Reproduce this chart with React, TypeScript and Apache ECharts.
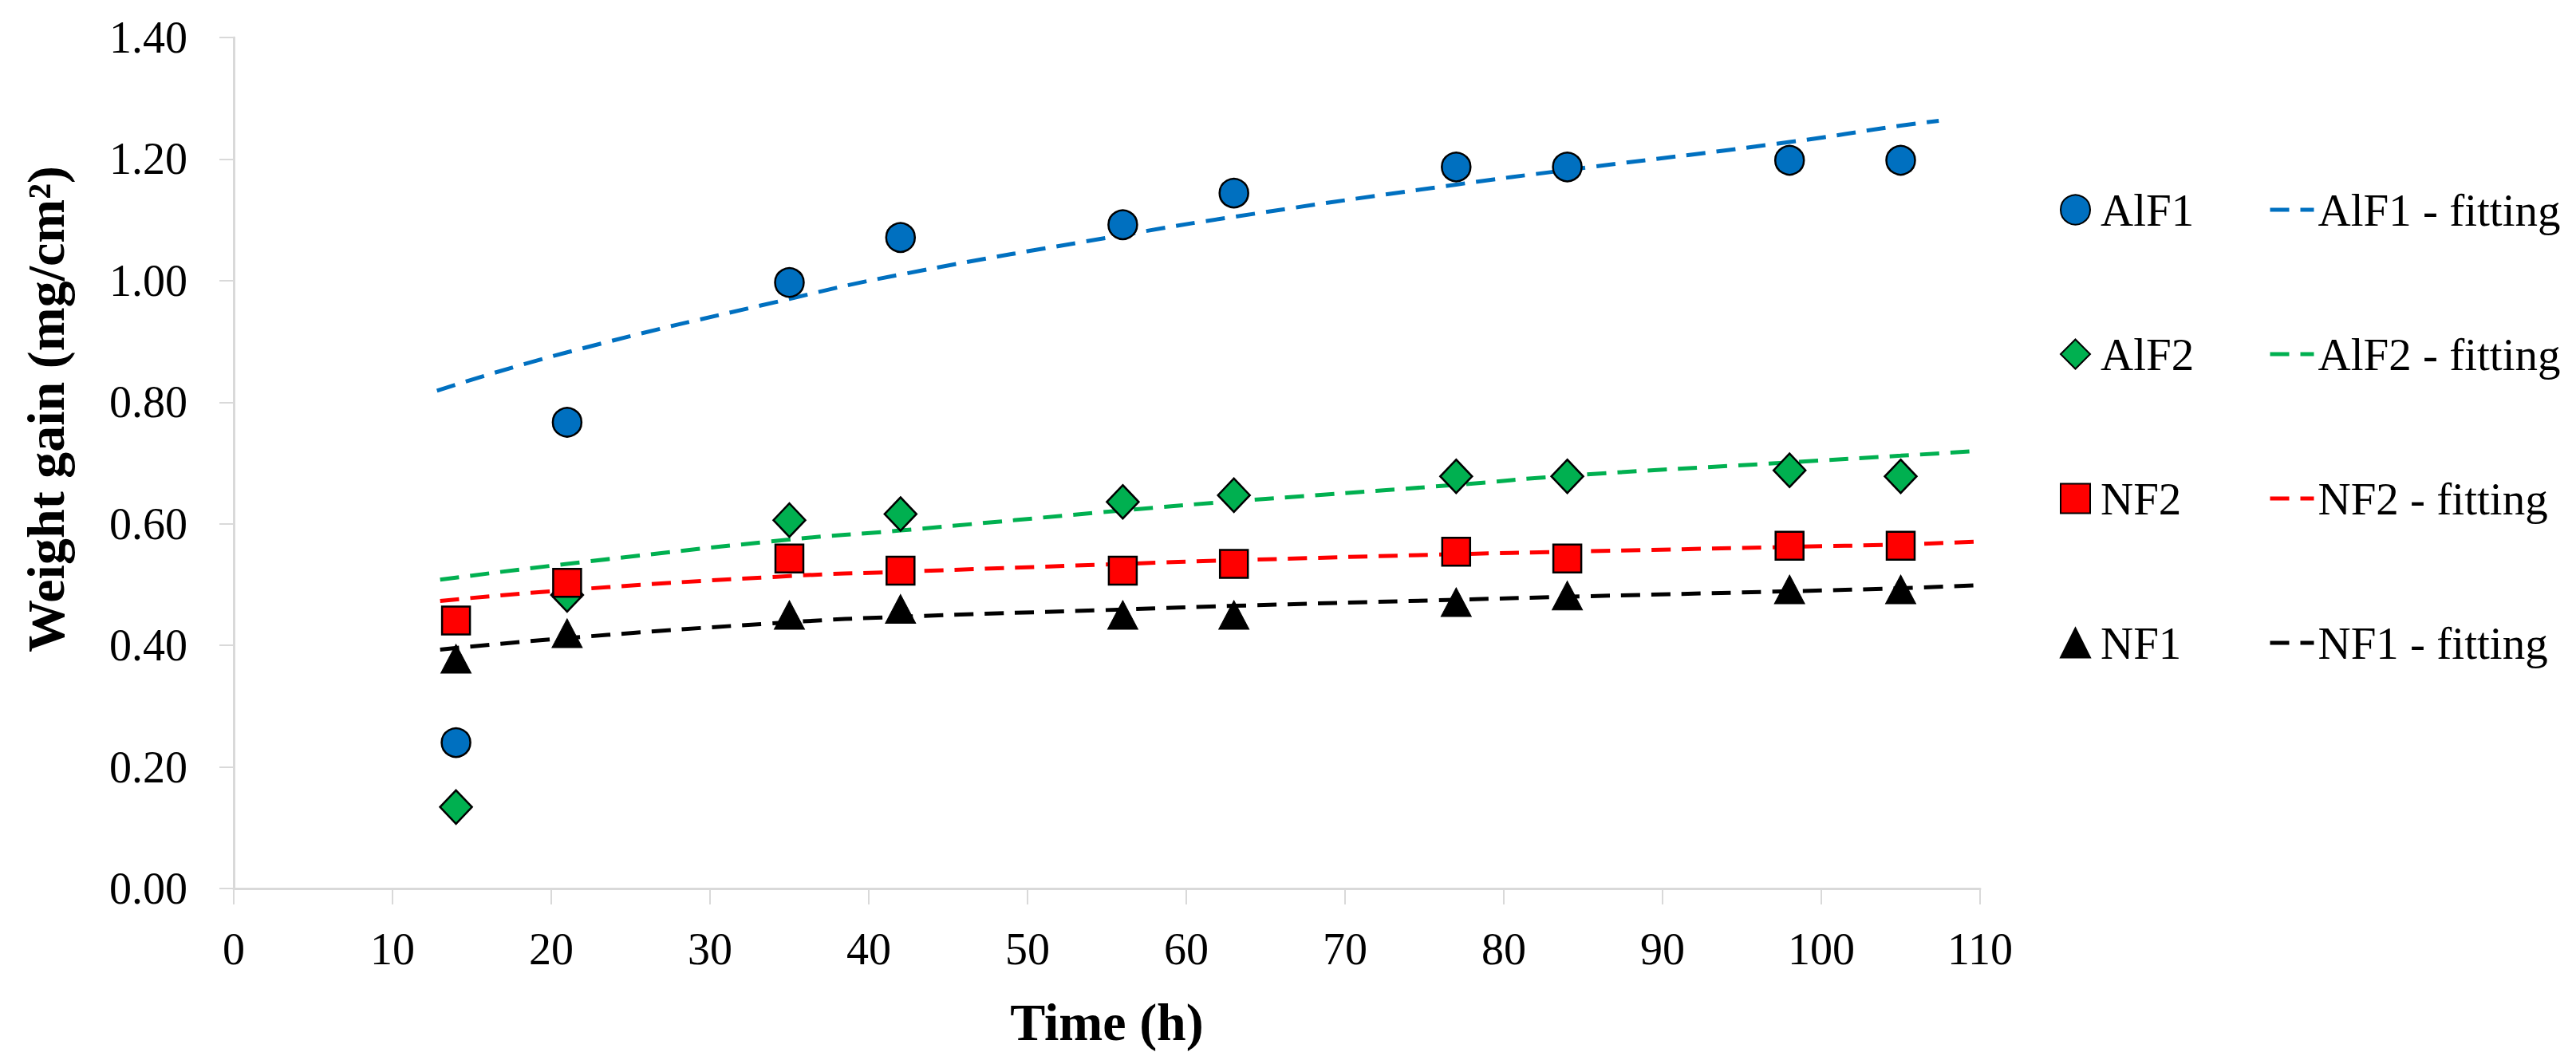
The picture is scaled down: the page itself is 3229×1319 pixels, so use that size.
import React, { useEffect, useRef } from "react";
import * as echarts from "echarts";

// Measured data (time in hours, weight gain in mg/cm²)
const times = [14, 21, 35, 42, 56, 63, 77, 84, 98, 105];
const alf1 = [0.24, 0.767, 0.997, 1.071, 1.092, 1.144, 1.187, 1.187, 1.198, 1.198];
const alf2 = [0.134, 0.483, 0.606, 0.616, 0.636, 0.647, 0.678, 0.678, 0.688, 0.678];
const nf2 = [0.441, 0.503, 0.543, 0.523, 0.523, 0.534, 0.554, 0.543, 0.564, 0.564];
const nf1 = [0.378, 0.42, 0.45, 0.46, 0.45, 0.45, 0.471, 0.482, 0.492, 0.492];

// Fitting curves
const fitTimesAlF1 = [12.8, 21, 35, 42, 56, 63, 77, 84, 98, 105, 107.4];
const fitAlF1 = [0.819, 0.882, 0.97, 1.01, 1.075, 1.105, 1.158, 1.182, 1.228, 1.255, 1.263];
const fitTimes = [13, 21, 35, 42, 56, 63, 77, 84, 98, 105, 110];
const fitAlF2 = [0.508, 0.534, 0.574, 0.589, 0.622, 0.637, 0.664, 0.679, 0.701, 0.712, 0.72];
const fitNF2 = [0.473, 0.491, 0.514, 0.521, 0.534, 0.54, 0.55, 0.554, 0.562, 0.566, 0.571];
const fitNF1 = [0.393, 0.412, 0.438, 0.447, 0.459, 0.465, 0.475, 0.48, 0.489, 0.494, 0.499];

const pointNames = ["AlF1", "AlF2", "NF2", "NF1"];
const fitNames = ["AlF1 - fitting", "AlF2 - fitting", "NF2 - fitting", "NF1 - fitting"];

const FONT = '"Liberation Serif", "Times New Roman", serif';

const zip = (xs: number[], ys: number[]) => xs.map((x, i) => [x, ys[i]]);

export default function App() {
  const ref = useRef<HTMLDivElement>(null);
  useEffect(() => {
    if (!ref.current) return;
    const chart = echarts.init(ref.current, undefined, { renderer: "svg" });
    const axisGray = "#d9d9d9";
    const border = { borderColor: "#000", borderWidth: 2.5, opacity: 1 };
    const fitLine = (name: string, xs: number[], ys: number[], color: string) => ({
      name,
      type: "line",
      data: zip(xs, ys),
      smooth: true,
      symbol: "none",
      z: 1,
      lineStyle: { color, width: 5, type: [24, 14] },
      itemStyle: { color },
    });
    chart.setOption({
      animation: false,
      backgroundColor: "#fff",
      grid: { left: 293, right: 747, top: 47, bottom: 205, containLabel: false },
      xAxis: {
        type: "value",
        min: 0,
        max: 110,
        interval: 10,
        name: "Time (h)",
        nameLocation: "middle",
        nameGap: 134,
        nameTextStyle: { fontFamily: FONT, fontWeight: "bold", fontSize: 66, color: "#000" },
        axisLine: { show: true, onZero: false, lineStyle: { color: axisGray, width: 3 } },
        axisTick: { show: true, inside: false, length: 20, lineStyle: { color: axisGray, width: 2 } },
        axisLabel: { margin: 48, fontFamily: FONT, fontSize: 56, color: "#000" },
        splitLine: { show: false },
      },
      yAxis: {
        type: "value",
        min: 0,
        max: 1.4,
        interval: 0.2,
        axisLine: { show: true, lineStyle: { color: axisGray, width: 3 } },
        axisTick: { show: true, inside: false, length: 18, lineStyle: { color: axisGray, width: 2 } },
        axisLabel: {
          margin: 58,
          fontFamily: FONT,
          fontSize: 56,
          color: "#000",
          formatter: (v: number) => v.toFixed(2),
        },
        splitLine: { show: false },
      },
      legend: [
        {
          data: pointNames,
          orient: "vertical",
          left: 2582,
          top: 233,
          padding: 0,
          itemWidth: 37,
          itemHeight: 37,
          itemGap: 121,
          itemStyle: { opacity: 1 },
          textStyle: { fontFamily: FONT, fontSize: 57, color: "#000", lineHeight: 60, padding: [0, 0, 0, 8] },
        },
        {
          data: fitNames,
          orient: "vertical",
          left: 2843,
          top: 233,
          padding: 0,
          itemWidth: 55,
          itemHeight: 37,
          itemGap: 121,
          itemStyle: { opacity: 0 },
          lineStyle: { width: 5, type: [24, 14] },
          textStyle: { fontFamily: FONT, fontSize: 57, color: "#000", lineHeight: 60 },
        },
      ],
      graphic: [
        {
          type: "text",
          x: 57,
          y: 513,
          rotation: Math.PI / 2,
          style: {
            text: "Weight gain (mg/cm²)",
            font: `bold 66px ${FONT}`,
            fill: "#000",
            textAlign: "center",
            textVerticalAlign: "middle",
          },
        },
      ],
      series: [
        fitLine(fitNames[0], fitTimesAlF1, fitAlF1, "#0070C0"),
        fitLine(fitNames[1], fitTimes, fitAlF2, "#00B050"),
        fitLine(fitNames[2], fitTimes, fitNF2, "#FF0000"),
        fitLine(fitNames[3], fitTimes, fitNF1, "#000000"),
        {
          name: pointNames[0],
          type: "scatter",
          data: zip(times, alf1),
          symbol: "circle",
          symbolSize: 36,
          z: 3,
          itemStyle: { color: "#0070C0", ...border },
        },
        {
          name: pointNames[1],
          type: "scatter",
          data: zip(times, alf2),
          symbol: "diamond",
          symbolSize: [40, 42],
          z: 3,
          itemStyle: { color: "#00B050", ...border },
        },
        {
          name: pointNames[2],
          type: "scatter",
          data: zip(times, nf2),
          symbol: "rect",
          symbolSize: 35,
          z: 3,
          itemStyle: { color: "#FF0000", ...border },
        },
        {
          name: pointNames[3],
          type: "scatter",
          data: zip(times, nf1),
          symbol: "triangle",
          symbolSize: [38, 36],
          z: 3,
          itemStyle: { color: "#000000", borderColor: "#000", borderWidth: 1, opacity: 1 },
        },
      ],
    });
    return () => chart.dispose();
  }, []);
  return (
    <div
      ref={ref}
      style={{ position: "fixed", left: 0, top: 0, width: "3229px", height: "1319px", background: "#fff" }}
    />
  );
}
